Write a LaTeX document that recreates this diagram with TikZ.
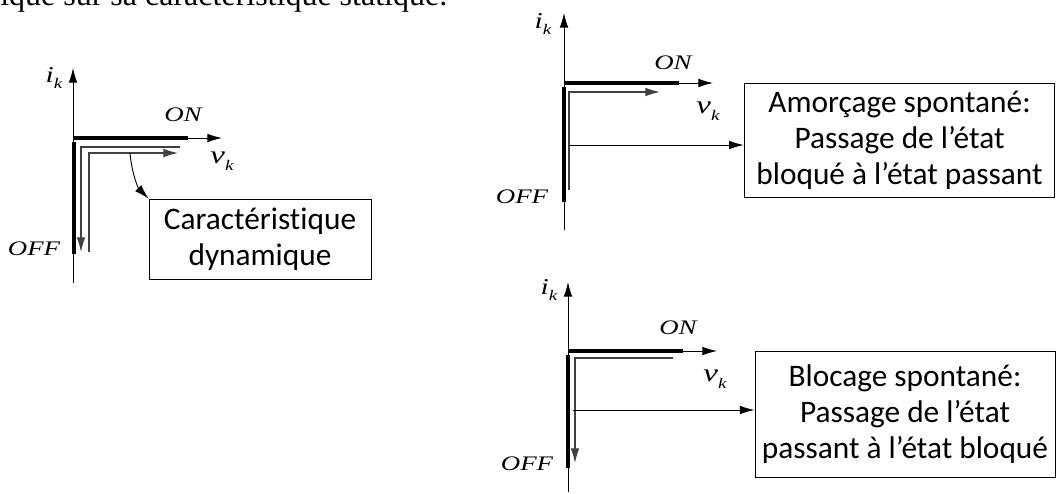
\documentclass[tikz,border=0pt]{standalone}
\usepackage{fontspec}
\usepackage{graphicx}
\setmainfont{Liberation Serif}
\newfontfamily\lblfont[UprightFont={* Italic}]{Liberation Serif}
\newfontfamily\boxfont[Ligatures=NoCommon]{Carlito}
\usetikzlibrary{arrows.meta}
\newcommand{\wide}[1]{\scalebox{1.3}[1]{#1}}
\newcommand{\ik}{\wide{{\fontsize{17}{18}\selectfont i}\raisebox{-0.6ex}{\fontsize{11}{11}\selectfont k}}}
\newcommand{\vk}{\wide{{\fontsize{19}{20}\selectfont v}\raisebox{-0.7ex}{\fontsize{11}{11}\selectfont k}}}

\begin{document}
\begin{tikzpicture}[x=0.75pt, y=-0.75pt,
  >={Latex[length=11pt,width=6.5pt]},
  axis/.style={->, line width=0.7pt},
  onoff/.style={line width=3pt},
  trace/.style={->, line width=0.9pt, draw=black!75},
  link/.style={->, line width=0.7pt},
  lbl/.style={font=\lblfont\fontsize{15.5}{17}\selectfont, inner sep=0pt},
  note/.style={draw, line width=0.7pt, inner sep=0pt, align=center,
    font=\boxfont\fontsize{23.5}{27}\selectfont}]
  \useasboundingbox (0,0) rectangle (1057,493);

  % Text line above, cut by the page edge
  \node[anchor=base west, inner sep=0pt, font=\fontsize{24}{28}\selectfont]
    (txt) at (0,5) {ique sur sa caractéristique statique.};

  % Panel 1: dynamic characteristic
  \draw[axis] (73,283) -- (73,68);
  \draw[axis] (73,138) -- (222,138);
  \draw[onoff] (73,138) -- (188,138);
  \draw[onoff] (74,142) -- (74,254);
  \draw[trace] (180,147) -- (81,147) -- (81,252);
  \draw[trace] (89,252) -- (89,153) -- (178,153);
  \node[lbl] (ik1) at (54,78) {\ik};
  \node[lbl] (on1) at (183,115) {\wide{ON}};
  \node[lbl] (vk1) at (222,161) {\vk};
  \node[lbl] (off1) at (34,249) {\wide{OFF}};
  \node[note, minimum width=166.5pt, minimum height=60pt] (box1) at (260,239)
    {Caractéristique\\dynamique};
  \coordinate (c1) at (130,153);
  \draw[link] (c1) .. controls +(2,22) and +(-10,-10) .. (box1.north west);

  % Panel 2: spontaneous turn-on
  \draw[axis] (564,230) -- (564,13);
  \draw[axis] (564,83) -- (713,83);
  \draw[onoff] (564,83) -- (679,83);
  \draw[onoff] (564,87) -- (564,202);
  \draw[trace] (569,190) -- (569,92) -- (660,92);
  \node[lbl] (ik2) at (543,24) {\ik};
  \node[lbl] (on2) at (673,63) {\wide{ON}};
  \node[lbl] (vk2) at (708,111) {\vk};
  \node[lbl] (off2) at (522,197) {\wide{OFF}};
  \node[note, minimum width=233pt, minimum height=85.5pt] (box2) at (899.5,140)
    {Amorçage spontané:\\Passage de l’état\\bloqué à l’état passant};
  \coordinate (s2) at (570,145);
  \draw[link] (s2) -- (s2 -| box2.west);

  % Panel 3: spontaneous turn-off
  \draw[axis] (568,492) -- (568,282);
  \draw[axis] (568,351) -- (717,351);
  \draw[onoff] (568,351) -- (683,351);
  \draw[onoff] (568,355) -- (568,468);
  \draw[trace] (673,358) -- (575,358) -- (575,463);
  \node[lbl] (ik3) at (549,290) {\ik};
  \node[lbl] (on3) at (678,328) {\wide{ON}};
  \node[lbl] (vk3) at (715,379) {\vk};
  \node[lbl] (off3) at (527,464) {\wide{OFF}};
  \node[note, minimum width=225pt, minimum height=94pt] (box3) at (905,414.5)
    {Blocage spontané:\\Passage de l’état\\passant à l’état bloqué};
  \coordinate (s3) at (573,410);
  \draw[link] (s3) -- (s3 -| box3.west);

\end{tikzpicture}
\end{document}
